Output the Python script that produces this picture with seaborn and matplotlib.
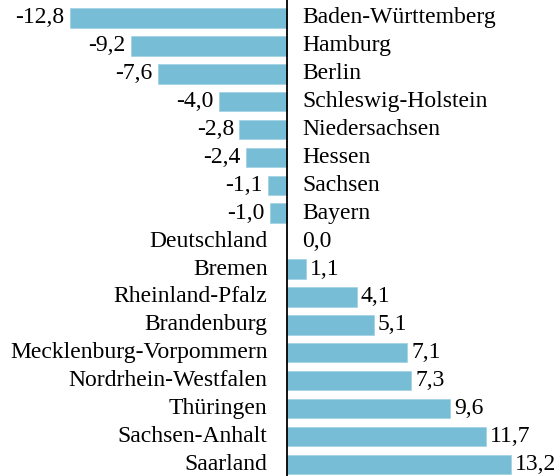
import matplotlib
matplotlib.use("Agg")
import matplotlib.pyplot as plt
import seaborn as sns
import pandas as pd

states = ["Baden-Württemberg", "Hamburg", "Berlin", "Schleswig-Holstein",
          "Niedersachsen", "Hessen", "Sachsen", "Bayern", "Deutschland",
          "Bremen", "Rheinland-Pfalz", "Brandenburg", "Mecklenburg-Vorpommern",
          "Nordrhein-Westfalen", "Thüringen", "Sachsen-Anhalt", "Saarland"]
values = [-12.8, -9.2, -7.6, -4.0, -2.8, -2.4, -1.1, -1.0, 0.0,
          1.1, 4.1, 5.1, 7.1, 7.3, 9.6, 11.7, 13.2]

df = pd.DataFrame({"state": states, "value": values})

sns.set_theme(style="white")
plt.rcParams["font.family"] = ["Liberation Serif", "DejaVu Serif"]
plt.rcParams["text.color"] = "black"

fig = plt.figure(figsize=(5.56, 4.76), dpi=100)
ax = fig.add_axes([0, 0, 1, 1])
sns.barplot(data=df, x="value", y="state", orient="h", color="#76BDD5",
            saturation=1, width=0.7, ax=ax, edgecolor="#9fd0e2", linewidth=0.5)

ax.set_xlim(-16.91, 15.85)
ax.set_ylim(16.42, -0.645)
ax.axvline(0, color="black", lw=1.3)
ax.set_axis_off()

fs = 17
for i, (s, v) in enumerate(zip(states, values)):
    if v < 0:
        ax.annotate(s, (0, i), xytext=(11, 0), textcoords="offset points",
                    ha="left", va="center", fontsize=fs, color="black")
        ax.annotate(f"{v:.1f}".replace(".", ","), (v, i), xytext=(-4, 0),
                    textcoords="offset points", ha="right", va="center",
                    fontsize=fs, color="black")
    else:
        ax.annotate(s, (0, i), xytext=(-14, 0), textcoords="offset points",
                    ha="right", va="center", fontsize=fs, color="black")
        off = 3 if v > 0 else 11
        ax.annotate(f"{v:.1f}".replace(".", ","), (v, i), xytext=(off, 0),
                    textcoords="offset points", ha="left", va="center",
                    fontsize=fs, color="black")

fig.savefig("out.png", dpi=100)
